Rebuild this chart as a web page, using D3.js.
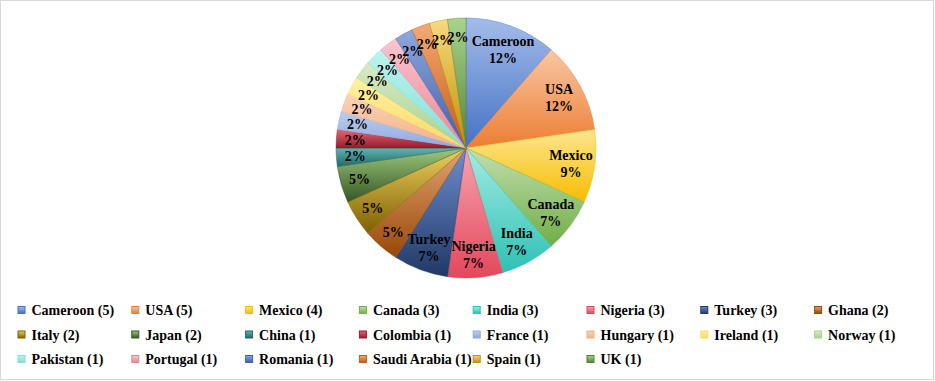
<!DOCTYPE html>
<html><head><meta charset="utf-8">
<script src="https://cdn.jsdelivr.net/npm/d3@7"></script>
<style>
html,body{margin:0;padding:0;background:#fff;}
svg{display:block;}
text{font-family:"Liberation Serif","Times New Roman",serif;font-weight:bold;fill:#000;}
</style></head>
<body>
<svg id="chart" width="935" height="381"></svg>
<script>
const categories = ["Cameroon","USA","Mexico","Canada","India","Nigeria","Turkey","Ghana","Italy","Japan","China","Colombia","France","Hungary","Ireland","Norway","Pakistan","Portugal","Romania","Saudi Arabia","Spain","UK"];
const values = [5,5,4,3,3,3,3,2,2,2,1,1,1,1,1,1,1,1,1,1,1,1];
const percentLabels = ["12%","12%","9%","7%","7%","7%","7%","5%","5%","5%","2%","2%","2%","2%","2%","2%","2%","2%","2%","2%","2%","2%"];
const showName = [true,true,true,true,true,true,true,false,false,false,false,false,false,false,false,false,false,false,false,false,false,false];
const lightColors = ["#A4BCEA","#F9C7A4","#FFE590","#C2DFAE","#A3ECE4","#F6A4B0","#6F8ED0","#E3A472","#EDD062","#9CC97E","#62B3B1","#E46676","#BACDEE","#FAD3B8","#FFF1A2","#D6EAC6","#BDF3EE","#F9C6CE","#8EA8DE","#F4A977","#F6DA80","#A9D48E"];
const darkColors  = ["#4472C4","#ED7D31","#F5BD00","#70AD47","#2EC0B4","#E4475B","#203864","#984807","#7F6000","#375623","#1E6A6A","#951B2C","#8FAADC","#F4B183","#FFD966","#A9D18E","#7FE0D6","#EE8393","#3E5FA8","#C55A11","#BF9000","#548235"];

const svg = d3.select("#chart");
svg.append("rect").attr("x",0.5).attr("y",0.5).attr("width",933).attr("height",379)
  .attr("fill","#fff").attr("stroke","#D9D9D9").attr("stroke-width",1);

const defs = svg.append("defs");
categories.forEach((c,i)=>{
  const g = defs.append("linearGradient").attr("id","grad"+i)
    .attr("x1",0).attr("y1",0).attr("x2",0).attr("y2",1);
  g.append("stop").attr("offset","0%").attr("stop-color",lightColors[i]);
  g.append("stop").attr("offset","100%").attr("stop-color",darkColors[i]);
});

const cx = 466, cy = 148, R = 130;
const data = categories.map((c,i)=>({name:c,value:values[i],i}));
const pie = d3.pie().value(d=>d.value).sort(null);
const arcs = pie(data);
const arc = d3.arc().innerRadius(0).outerRadius(R);
const g = svg.append("g").attr("transform",`translate(${cx},${cy})`);
g.selectAll("path.slice").data(arcs).join("path")
  .attr("class","slice")
  .attr("d",arc)
  .attr("fill",d=>`url(#grad${d.data.i})`)
  .attr("stroke",d=>darkColors[d.data.i])
  .attr("stroke-opacity",0.6)
  .attr("stroke-width",0.75);

const labelArc2 = d3.arc().innerRadius(106).outerRadius(106);
const labelArc1 = d3.arc().innerRadius(111).outerRadius(111);
arcs.forEach(d=>{
  const i = d.data.i;
  if (showName[i]) {
    const [x,y] = labelArc2.centroid(d);
    const t = g.append("text").attr("text-anchor","middle").style("font-size","14px");
    t.append("tspan").attr("x",x).attr("y",y-3).text(d.data.name);
    t.append("tspan").attr("x",x).attr("y",y+14).text(percentLabels[i]);
  } else {
    const [x,y] = labelArc1.centroid(d);
    g.append("text").attr("x",x).attr("y",y+5).attr("text-anchor","middle")
      .style("font-size","14px").text(percentLabels[i]);
  }
});

// legend
const legX0 = 17.5, legDX = 113.8, legY0 = 315, legDY = 24.5;
const leg = svg.append("g");
data.forEach((d,i)=>{
  const col = i % 8, row = Math.floor(i/8);
  const x = legX0 + col*legDX, y = legY0 + row*legDY;
  const lg = leg.append("g");
  lg.append("rect").attr("x",x+0.5).attr("y",y-8.5).attr("width",7).attr("height",7)
    .attr("fill",`url(#grad${i})`).attr("stroke",darkColors[i]).attr("stroke-width",1);
  lg.append("text").attr("x",x+14).attr("y",y).style("font-size","14px")
    .text(`${d.name} (${d.value})`);
});
</script>
</body></html>
